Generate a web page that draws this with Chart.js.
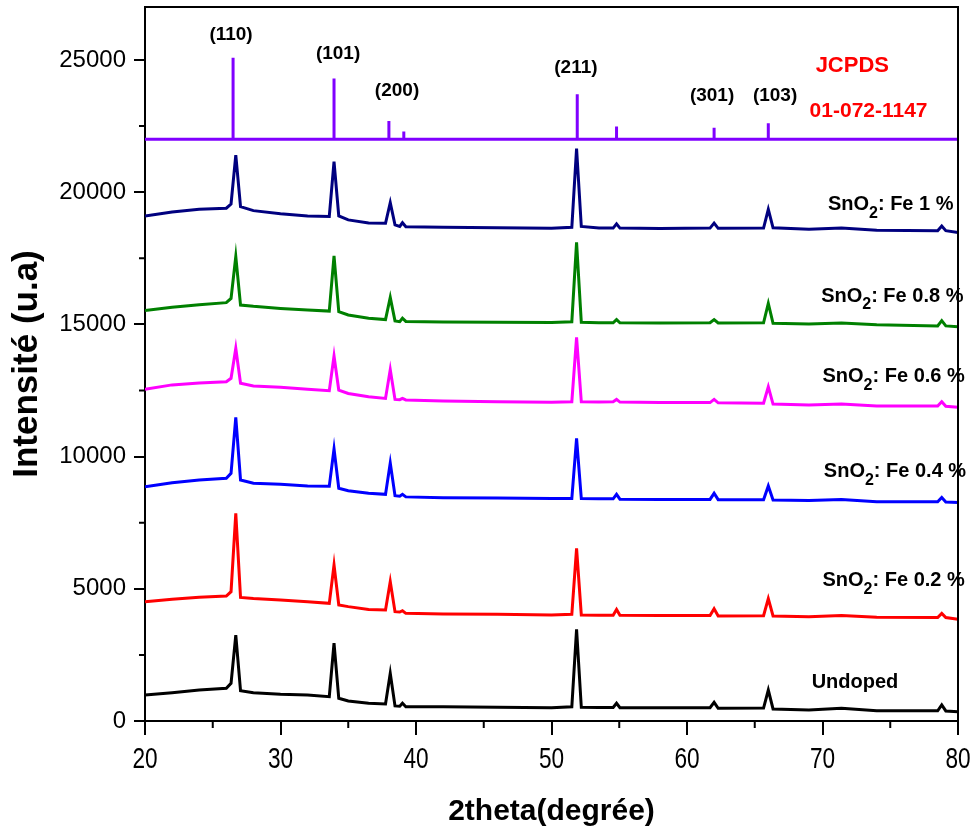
<!DOCTYPE html>
<html>
<head>
<meta charset="utf-8">
<script src="https://cdn.jsdelivr.net/npm/chart.js@4.4.0/dist/chart.umd.min.js"></script>
<style>
  html, body { margin: 0; padding: 0; background: #fff; }
  canvas { display: block; }
</style>
</head>
<body>
<canvas id="xrdChart" width="973" height="833"></canvas>
<script>
// 2theta sampling points (degrees)
const twoTheta = [20, 22, 24, 26, 26.35, 26.7, 27.05, 28, 30, 32,
  33.6, 33.95, 34.3, 35, 36.5, 37.75, 38.1, 38.45, 38.8, 39.0,
  39.25, 42, 46, 50, 51.5, 51.85, 52.2, 53.5, 54.55, 54.8,
  55.05, 58, 61.7, 62.0, 62.3, 65.65, 66.0, 66.35, 69, 71.4,
  74, 78.5, 78.8, 79.1, 80];

const undoped = [980, 1070, 1170, 1235, 1425, 3250, 1145, 1070, 1010, 980,
  920, 2940, 860, 755, 670, 645, 1800, 570, 560, 670,
  540, 540, 520, 505, 540, 3470, 520, 510, 510, 670,
  505, 505, 505, 705, 480, 490, 1170, 455, 415, 480,
  390, 385, 605, 380, 350];

const fe02 = [4510, 4600, 4675, 4725, 4890, 7850, 4675, 4630, 4575, 4510,
  4450, 5900, 4390, 4325, 4215, 4200, 5270, 4135, 4120, 4170,
  4070, 4045, 4035, 4010, 4035, 6530, 4010, 4000, 4000, 4215,
  3995, 3985, 3990, 4245, 3975, 3980, 4630, 3970, 3945, 3990,
  3920, 3915, 4070, 3910, 3845];

const fe04 = [8860, 9010, 9115, 9175, 9365, 11480, 9115, 8990, 8950, 8890,
  8880, 10290, 8800, 8710, 8610, 8570, 9760, 8520, 8500, 8570,
  8475, 8440, 8430, 8410, 8410, 10690, 8410, 8400, 8400, 8570,
  8390, 8380, 8380, 8610, 8370, 8370, 8890, 8360, 8340, 8380,
  8295, 8290, 8450, 8280, 8260];

const fe06 = [12545, 12710, 12780, 12830, 12960, 14090, 12770, 12670, 12620, 12545,
  12490, 13800, 12515, 12385, 12260, 12200, 13290, 12160, 12150, 12200,
  12140, 12100, 12075, 12050, 12075, 14510, 12070, 12060, 12075, 12160,
  12060, 12040, 12040, 12160, 12030, 12020, 12640, 11985, 11950, 11990,
  11915, 11910, 12075, 11900, 11860];

const fe08 = [15520, 15650, 15740, 15820, 15980, 17560, 15730, 15680, 15600, 15540,
  15500, 17590, 15480, 15355, 15230, 15180, 16020, 15130, 15100, 15230,
  15110, 15090, 15080, 15070, 15100, 18100, 15080, 15060, 15060, 15180,
  15060, 15050, 15060, 15180, 15050, 15060, 15790, 15040, 15010, 15050,
  14980, 14940, 15140, 14940, 14910];

const fe1 = [19100, 19250, 19350, 19390, 19550, 21400, 19450, 19300, 19180, 19100,
  19080, 21150, 19100, 18950, 18830, 18820, 19600, 18760, 18700, 18840,
  18690, 18670, 18650, 18630, 18670, 21650, 18700, 18640, 18640, 18800,
  18640, 18620, 18640, 18830, 18630, 18640, 19350, 18650, 18600, 18640,
  18560, 18540, 18720, 18540, 18470];

const seriesNames = ["Undoped", "SnO2: Fe 0.2 %", "SnO2: Fe 0.4 %",
  "SnO2: Fe 0.6 %", "SnO2: Fe 0.8 %", "SnO2: Fe 1 %"];
const seriesColors = ["#000000", "#ff0000", "#0000ff", "#ff00ff", "#008000", "#00007f"];

// JCPDS 01-072-1147 reference sticks
const jcpdsBase = 22000;
const stickPos = [26.5, 33.95, 38.0, 39.1, 51.9, 54.8, 62.0, 66.0];
const stickTop = [25080, 24300, 22690, 22290, 23700, 22480, 22430, 22600];

const hklLabels = ["(110)", "(101)", "(200)", "(211)", "(301)", "(103)"];

const xTicks = [20, 30, 40, 50, 60, 70, 80];
const yTicks = [0, 5000, 10000, 15000, 20000, 25000];

// where the annotation texts sit, in data units
const hklAnchors = [[26.35, 25950], [34.25, 25230], [38.6, 23830],
  [51.8, 24700], [61.85, 23640], [66.5, 23640]];
const nameAnchors = [[69.2, 1440], [70.0, 5300], [70.1, 9420],
  [70.0, 13010], [69.9, 16070], [70.4, 19520]];

const FONT = '"Liberation Sans", Arial, sans-serif';

function toPoints(ys) {
  return ys.map((y, i) => ({ x: twoTheta[i], y: y }));
}

function jcpdsPoints() {
  const pts = [{ x: 20, y: jcpdsBase }];
  stickPos.forEach((p, i) => {
    pts.push({ x: p, y: jcpdsBase });
    pts.push({ x: p, y: stickTop[i] });
    pts.push({ x: p, y: jcpdsBase });
  });
  pts.push({ x: 80, y: jcpdsBase });
  return pts;
}

const allSeries = [undoped, fe02, fe04, fe06, fe08, fe1];

const datasets = allSeries.map((ys, i) => ({
  label: seriesNames[i],
  data: toPoints(ys),
  borderColor: seriesColors[i],
  borderWidth: 3,
  pointRadius: 0,
  tension: 0,
}));
datasets.push({
  label: "JCPDS",
  data: jcpdsPoints(),
  borderColor: "#8000ff",
  borderWidth: 3,
  pointRadius: 0,
  tension: 0,
});

function drawSnO2(ctx, x, y, text) {
  if (text.indexOf("SnO2") !== 0) {
    ctx.font = "bold 20px " + FONT;
    ctx.fillText(text, x, y);
    return;
  }
  const rest = text.slice(4);
  ctx.font = "bold 20px " + FONT;
  ctx.fillText("SnO", x, y);
  let w = ctx.measureText("SnO").width;
  ctx.font = "bold 16px " + FONT;
  ctx.fillText("2", x + w, y + 9);
  w += ctx.measureText("2").width;
  ctx.font = "bold 20px " + FONT;
  ctx.fillText(rest, x + w, y);
}

const labelsPlugin = {
  id: "labels",
  afterDatasetsDraw(chart) {
    const { ctx, scales: { x, y } } = chart;
    ctx.save();
    ctx.fillStyle = "#000";
    ctx.textBaseline = "middle";
    ctx.textAlign = "center";
    ctx.font = "bold 19px " + FONT;
    hklLabels.forEach((t, i) => {
      ctx.fillText(t, x.getPixelForValue(hklAnchors[i][0]), y.getPixelForValue(hklAnchors[i][1]));
    });
    ctx.fillStyle = "#ff0000";
    ctx.font = "bold 22px " + FONT;
    ctx.fillText("JCPDS", x.getPixelForValue(72.2), y.getPixelForValue(24770));
    ctx.font = "bold 21px " + FONT;
    ctx.fillText("01-072-1147", x.getPixelForValue(73.4), y.getPixelForValue(23070));
    ctx.fillStyle = "#000";
    ctx.textAlign = "left";
    seriesNames.forEach((t, i) => {
      drawSnO2(ctx, x.getPixelForValue(nameAnchors[i][0]), y.getPixelForValue(nameAnchors[i][1]), t);
    });
    ctx.restore();
  },
};

const framePlugin = {
  id: "frame",
  afterDraw(chart) {
    const { ctx, chartArea: a, scales: { x, y } } = chart;
    ctx.save();
    ctx.strokeStyle = "#000";
    ctx.lineWidth = 2;
    ctx.beginPath();
    ctx.moveTo(a.left, a.top);
    ctx.lineTo(a.right, a.top);
    ctx.lineTo(a.right, a.bottom);
    ctx.stroke();
    // minor ticks
    ctx.beginPath();
    for (let v = 25; v < 80; v += 10) {
      const px = x.getPixelForValue(v);
      ctx.moveTo(px, a.bottom);
      ctx.lineTo(px, a.bottom + 7);
    }
    for (let v = 2500; v < 27000; v += 5000) {
      const py = y.getPixelForValue(v);
      ctx.moveTo(a.left, py);
      ctx.lineTo(a.left - 6, py);
    }
    ctx.stroke();
    // x tick labels, narrow face
    ctx.fillStyle = "#000";
    ctx.font = "29px " + FONT;
    ctx.textAlign = "center";
    ctx.textBaseline = "alphabetic";
    x.ticks.forEach((t) => {
      ctx.save();
      ctx.translate(x.getPixelForValue(t.value), a.bottom + 47);
      ctx.scale(0.78, 1);
      ctx.fillText(String(t.value), 0, 0);
      ctx.restore();
    });
    ctx.restore();
  },
};

new Chart(document.getElementById("xrdChart"), {
  type: "line",
  data: { datasets: datasets },
  options: {
    responsive: false,
    animation: false,
    devicePixelRatio: 1,
    layout: { padding: { top: 7, right: 15, left: 0, bottom: 0 } },
    plugins: { legend: { display: false }, tooltip: { enabled: false } },
    scales: {
      x: {
        type: "linear",
        min: 20,
        max: 80,
        afterBuildTicks: (s) => { s.ticks = xTicks.map((v) => ({ value: v })); },
        afterFit: (s) => { s.height = 112; s.paddingLeft = 0; s.paddingRight = 0; },
        ticks: { display: false },
        grid: { drawOnChartArea: false, tickLength: 14, color: "#000", lineWidth: 2 },
        border: { color: "#000", width: 2 },
        title: {
          display: true,
          text: "2theta(degrée)",
          color: "#000",
          font: { family: FONT, size: 30, weight: "bold" },
          padding: { top: 0, bottom: 3 },
        },
      },
      y: {
        min: 0,
        max: 27000,
        afterBuildTicks: (s) => { s.ticks = yTicks.map((v) => ({ value: v })); },
        afterFit: (s) => { s.width = 145; s.paddingTop = 0; s.paddingBottom = 0; },
        ticks: {
          color: "#000",
          padding: 8,
          font: { family: FONT, size: 24 },
          callback: (v) => String(v),
        },
        grid: { drawOnChartArea: false, tickLength: 11, color: "#000", lineWidth: 2 },
        border: { color: "#000", width: 2 },
        title: {
          display: true,
          text: "Intensité (u.a)",
          color: "#000",
          font: { family: FONT, size: 35, weight: "bold" },
          padding: { top: 6, bottom: 0 },
        },
      },
    },
  },
  plugins: [labelsPlugin, framePlugin],
});
</script>
</body>
</html>
